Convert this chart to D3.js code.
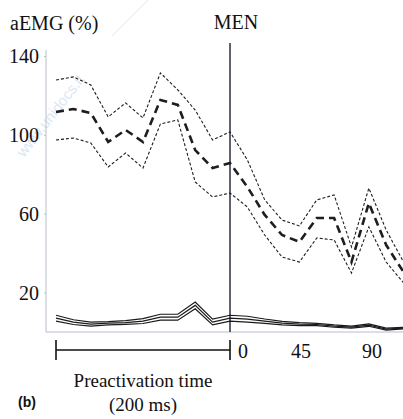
<!DOCTYPE html>
<html>
<head>
<meta charset="utf-8">
<script src="https://cdn.jsdelivr.net/npm/d3@7"></script>
<style>
  body { margin: 0; background: #fff; }
  text { font-family: "Liberation Serif", "DejaVu Serif", serif; fill: #111; }
</style>
</head>
<body>
<script>
const width = 403;
const height = 419;

// sample times (ms): preactivation -200..0, then after MEN
const times = [-200, -180, -160, -140, -120, -100, -80, -60, -40, -20, 0,
               11, 22, 33, 44, 55, 66, 77, 88, 99, 110];

// aEMG (%) - upper bound, mean, lower bound
const upperBand = [127.8, 129.4, 125.3, 109.1, 116.2, 108.6, 131.4, 122.8, 112.6, 97.4, 101.5,
                   87.3, 67, 56.8, 53.8, 67, 69.5, 43.1, 73, 51.7, 35.5];
const meanLine  = [111.6, 113.1, 111.1, 96.4, 102.5, 96.4, 117.7, 115.2, 92.3, 83.2, 85.7,
                   73.6, 59.4, 49.2, 45.7, 57.8, 57.8, 35.5, 65.4, 44.1, 30.4];
const lowerBand = [97.4, 98.4, 95.9, 83.7, 90.8, 83.2, 105.5, 107.6, 76.1, 68.5, 70.5,
                   63.4, 49.2, 38, 35.5, 47.7, 46.7, 29.9, 53.3, 35.5, 24.9];

// second muscle (bottom traces)
const lowUpper = [8.5, 6.2, 5, 5.3, 5.8, 6.8, 9, 9, 15.2, 6.5, 8.5,
                  8, 6.6, 5.4, 4.8, 4.4, 3.6, 3, 4.1, 2, 2.4];
const lowMean  = [7, 5, 4, 4.5, 4.8, 5.5, 7.5, 7.5, 13.5, 5, 7,
                  6.5, 5.5, 4.5, 4, 3.8, 3, 2.5, 3.5, 1.5, 2];
const lowLower = [5.5, 3.8, 3, 3.6, 3.9, 4.3, 6, 6, 11.8, 3.6, 5.5,
                  5, 4.4, 3.6, 3.2, 3.2, 2.4, 2, 2.9, 1, 1.6];

const yTicks = [20, 60, 100, 140];
const xTicks = [0, 45, 90];

const svg = d3.select('body')
    .append('svg')
    .attr('width', width)
    .attr('height', height);

const x = d3.scaleLinear()
    .domain([-200, 0, 90])
    .range([56, 230, 372]);

const y = d3.scaleLinear()
    .domain([0, 140])
    .range([332, 56]);

// watermark
svg.append('text')
    .attr('transform', 'translate(24,158) rotate(-52)')
    .style('font-family', 'Liberation Sans, sans-serif')
    .style('font-size', '15px')
    .style('fill', '#dbe7f3')
    .text('www.unidocs.it');
svg.append('line')
    .attr('x1', 112).attr('y1', 36).attr('x2', 148).attr('y2', 0)
    .attr('stroke', '#dbe7f3').attr('stroke-width', 1);

// axes (light grey)
const yAxis = d3.axisLeft(y).tickValues(yTicks).tickSize(2).tickFormat('');
svg.append('g')
    .attr('transform', 'translate(46,0)')
    .call(yAxis)
    .call(g => g.select('.domain').attr('d', 'M0,50V332'))
    .selectAll('line, path').attr('stroke', '#b8bfcc');

svg.append('line')
    .attr('x1', 46).attr('x2', width)
    .attr('y1', y(0)).attr('y2', y(0))
    .attr('stroke', '#b8bfcc');

svg.selectAll('.ylab')
    .data(yTicks)
    .enter()
    .append('text')
    .attr('x', 39)
    .attr('y', d => y(d))
    .attr('dy', '0.35em')
    .attr('text-anchor', 'end')
    .style('font-size', '20px')
    .text(d => d);

svg.append('text')
    .attr('x', 10).attr('y', 30)
    .style('font-size', '20px')
    .text('aEMG (%)');

// MEN line
svg.append('line')
    .attr('x1', x(0)).attr('x2', x(0))
    .attr('y1', 43).attr('y2', y(0))
    .attr('stroke', '#1c2233').attr('stroke-width', 1.4);
svg.append('text')
    .attr('x', x(0) + 6).attr('y', 29)
    .attr('text-anchor', 'middle')
    .style('font-size', '20px')
    .text('MEN');

// lines
const line = vals => d3.line()
    .x((d, i) => x(times[i]))
    .y(d => y(d))(vals);

const dashed = [
    {v: upperBand, w: 1.1, dash: '3,2'},
    {v: lowerBand, w: 1.1, dash: '3,2'},
    {v: meanLine, w: 2.6, dash: '8,5'}
];
svg.selectAll('.dline')
    .data(dashed)
    .enter()
    .append('path')
    .attr('d', d => line(d.v))
    .attr('fill', 'none')
    .attr('stroke', '#1e1e1e')
    .attr('stroke-width', d => d.w)
    .attr('stroke-dasharray', d => d.dash);

svg.selectAll('.sline')
    .data([lowUpper, lowMean, lowLower])
    .enter()
    .append('path')
    .attr('d', d => line(d))
    .attr('fill', 'none')
    .attr('stroke', '#1a1a1a')
    .attr('stroke-width', 1.2);

// preactivation bracket
const bar = svg.append('g').attr('stroke', '#111').attr('stroke-width', 1.6);
bar.append('line').attr('x1', x(-200)).attr('x2', x(0)).attr('y1', 350).attr('y2', 350);
bar.append('line').attr('x1', x(-200)).attr('x2', x(-200)).attr('y1', 340).attr('y2', 360);
bar.append('line').attr('x1', x(0)).attr('x2', x(0)).attr('y1', 340).attr('y2', 360);

svg.selectAll('.xlab')
    .data(xTicks)
    .enter()
    .append('text')
    .attr('x', d => d === 0 ? x(d) + 8 : x(d))
    .attr('y', 358)
    .attr('text-anchor', d => d === 0 ? 'start' : 'middle')
    .style('font-size', '20px')
    .text(d => d);

svg.append('text')
    .attr('x', 143).attr('y', 387)
    .attr('text-anchor', 'middle')
    .style('font-size', '19px')
    .text('Preactivation time');
svg.append('text')
    .attr('x', 143).attr('y', 411)
    .attr('text-anchor', 'middle')
    .style('font-size', '19px')
    .text('(200 ms)');

svg.append('text')
    .attr('x', 18).attr('y', 407)
    .style('font-family', 'Liberation Sans, Arial, sans-serif')
    .style('font-weight', 'bold')
    .style('font-size', '14px')
    .text('(b)');
</script>
</body>
</html>
